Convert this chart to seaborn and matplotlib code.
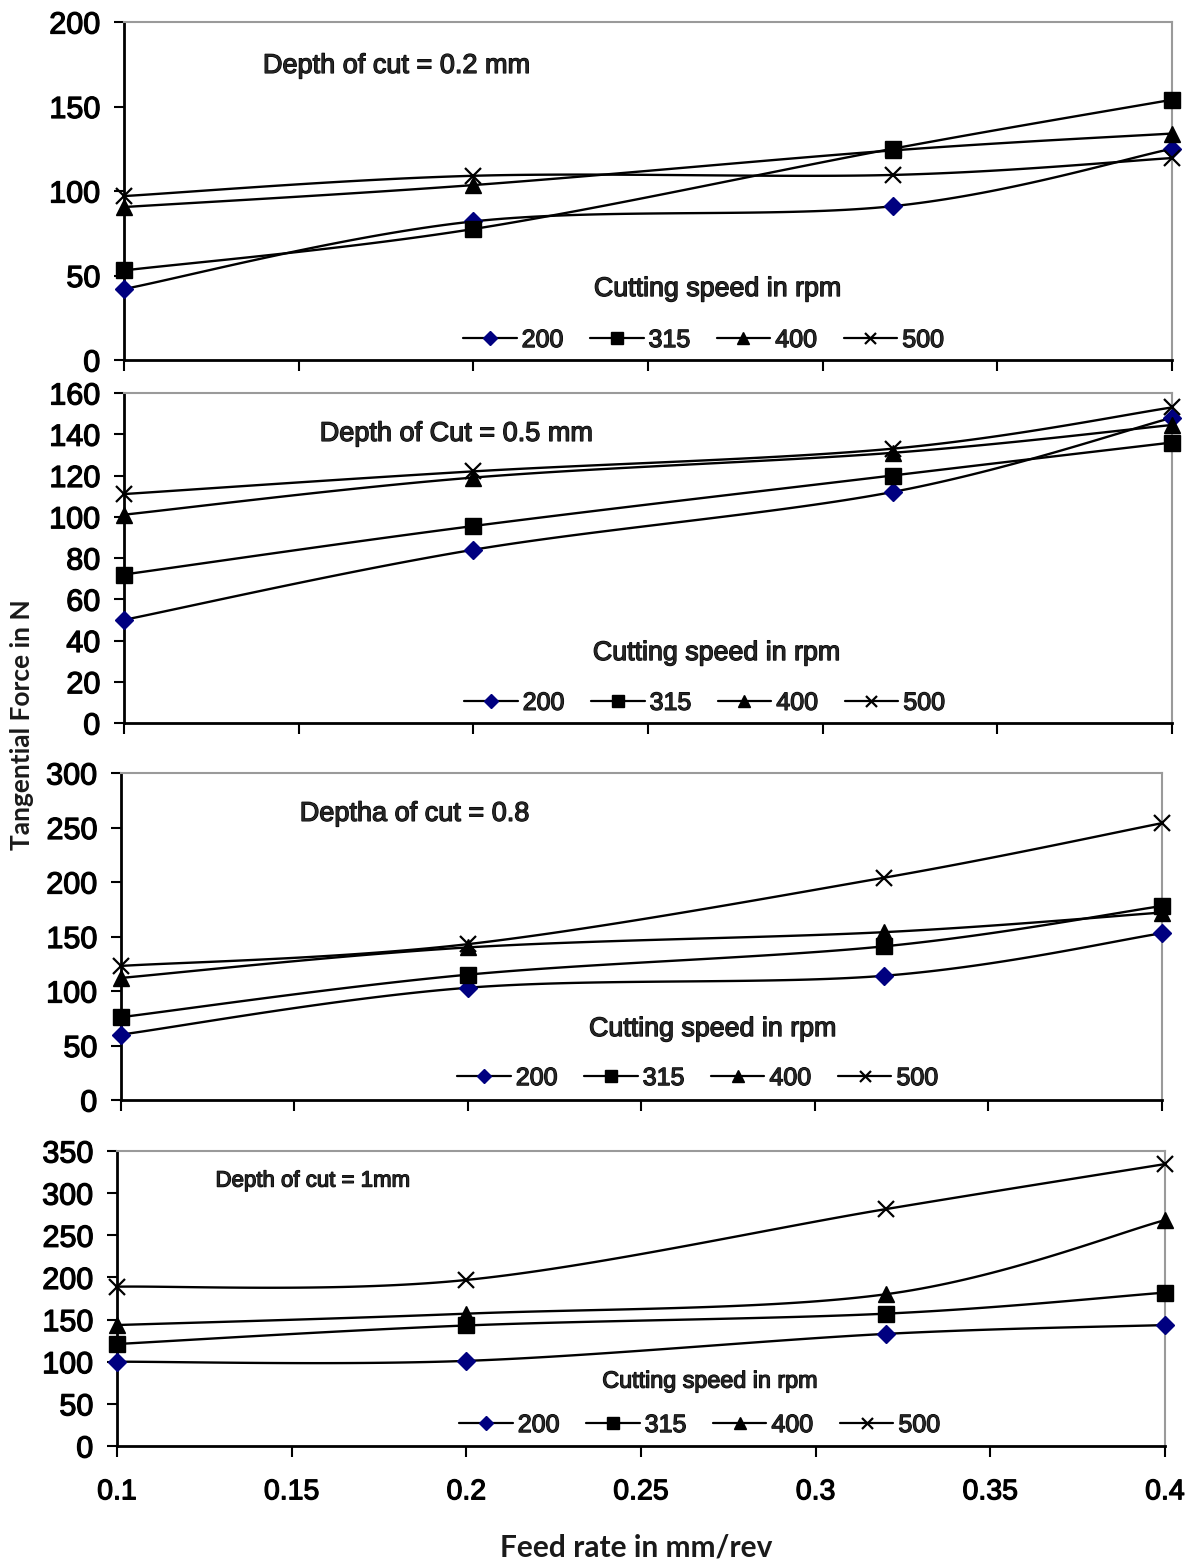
import numpy as np
import pandas as pd
import matplotlib
matplotlib.use("Agg")
import matplotlib.pyplot as plt
import matplotlib.patheffects as pe
from matplotlib.lines import Line2D
import seaborn as sns

sns.set_style("white")
plt.rcParams["font.family"] = ["Liberation Sans", "DejaVu Sans"]

# Feed rate (mm/rev) and cutting speeds (rpm)
feed_rate = [0.1, 0.2, 0.32, 0.4]
speeds = ["200", "315", "400", "500"]

# Tangential force (N), depth of cut = 0.2 mm
d02_s200 = [42, 82, 91, 125]
d02_s315 = [53, 77.5, 125, 154]
d02_s400 = [90.5, 103.5, 124, 134]
d02_s500 = [97, 109, 109.5, 119.5]

# Tangential force (N), depth of cut = 0.5 mm
d05_s200 = [50, 84, 112, 148]
d05_s315 = [72, 95.5, 120, 136]
d05_s400 = [101, 119, 131, 144.5]
d05_s500 = [111, 122, 133, 153]

# Tangential force (N), depth of cut = 0.8 mm
d08_s200 = [60, 103, 114, 153]
d08_s315 = [76, 115, 141, 178]
d08_s400 = [112, 140, 154, 172]
d08_s500 = [123, 143, 204, 254]

# Tangential force (N), depth of cut = 1 mm
d10_s200 = [100, 101, 133, 143.5]
d10_s315 = [121, 143, 157, 182]
d10_s400 = [143.5, 157, 180, 268]
d10_s500 = [189, 197, 281, 334.5]

panel_titles = ["Depth of cut = 0.2 mm", "Depth of Cut = 0.5 mm",
                "Deptha of cut = 0.8", "Depth of cut = 1mm"]
legend_heading = "Cutting speed in rpm"
panel_series = [
    [d02_s200, d02_s315, d02_s400, d02_s500],
    [d05_s200, d05_s315, d05_s400, d05_s500],
    [d08_s200, d08_s315, d08_s400, d08_s500],
    [d10_s200, d10_s315, d10_s400, d10_s500],
]
y_max = [200, 160, 300, 350]
y_step = [50, 20, 50, 50]
x_ticks = [0.1, 0.15, 0.2, 0.25, 0.3, 0.35, 0.4]
x_tick_labels = ["0.1", "0.15", "0.2", "0.25", "0.3", "0.35", "0.4"]

W, H = 1196, 1564
# axes boxes in pixels: left, right, top, bottom
boxes = [(124, 1172, 22, 360), (124, 1172, 393, 723),
         (121, 1162, 773, 1100), (117, 1165, 1151, 1446)]
title_pos = [(0.26, 0.87), (0.317, 0.876), (0.282, 0.875), (0.187, 0.898)]
title_size = [19.5, 19.5, 19.5, 16]
heading_pos = [(0.566, 0.21), (0.565, 0.212), (0.568, 0.217), (0.566, 0.22)]
heading_size = [19.3, 19.3, 19.3, 16.8]
legend_anchor = [(0.553, 0.059), (0.554, 0.061), (0.554, 0.067), (0.556, 0.071)]

HEAVY = [pe.withStroke(linewidth=0.9, foreground="black")]

styles = {
    "200": dict(marker="D", color="#000080", ms=9.5, mec="#000080", mew=1),
    "315": dict(marker="s", color="black", ms=11.5, mec="black", mew=1),
    "400": dict(marker="^", color="black", ms=11.5, mec="black", mew=1),
    "500": dict(marker="x", color="black", ms=11, mec="black", mew=1.6),
}


def smooth_curve(xs, ys, n=40):
    """Bezier smoothing through the points, like a spreadsheet smoothed line."""
    xs = np.asarray(xs, float)
    ys = np.asarray(ys, float)
    px, py = [], []
    m = len(xs)
    for i in range(m - 1):
        i0, i3 = max(i - 1, 0), min(i + 2, m - 1)
        p0 = np.array([xs[i], ys[i]])
        p3 = np.array([xs[i + 1], ys[i + 1]])
        c1 = p0 + (np.array([xs[i + 1], ys[i + 1]]) - np.array([xs[i0], ys[i0]])) / 6
        c2 = p3 - (np.array([xs[i3], ys[i3]]) - np.array([xs[i], ys[i]])) / 6
        t = np.linspace(0, 1, n)[:, None]
        seg = ((1 - t) ** 3) * p0 + 3 * ((1 - t) ** 2) * t * c1 + 3 * (1 - t) * t ** 2 * c2 + t ** 3 * p3
        if i > 0:
            seg = seg[1:]
        px.extend(seg[:, 0])
        py.extend(seg[:, 1])
    return np.array(px), np.array(py)


fig = plt.figure(figsize=(W / 100, H / 100), dpi=100)

for k in range(4):
    l, r, t, b = boxes[k]
    ax = fig.add_axes([l / W, 1 - b / H, (r - l) / W, (b - t) / H])
    for name, vals in zip(speeds, panel_series[k]):
        sx, sy = smooth_curve(feed_rate, vals)
        curve = pd.DataFrame({"feed": sx, "force": sy})
        sns.lineplot(data=curve, x="feed", y="force", ax=ax, color="black",
                     lw=1.7, sort=False, estimator=None)
        st = styles[name]
        pts = pd.DataFrame({"feed": feed_rate, "force": vals})
        ax.plot(pts["feed"], pts["force"], ls="none", marker=st["marker"],
                color=st["color"], ms=st["ms"], mec=st["mec"], mew=st["mew"],
                zorder=5, clip_on=False)

    ax.set_xlim(0.1, 0.4)
    ax.set_ylim(0, y_max[k])
    ax.set_yticks(np.arange(0, y_max[k] + 1, y_step[k]))
    ax.set_xticks(x_ticks)
    if k == 3:
        ax.set_xticklabels(x_tick_labels)
    else:
        ax.set_xticklabels([])
    ax.set_xlabel("")
    ax.set_ylabel("")
    ax.tick_params(axis="y", which="major", direction="out", length=7, width=1.5,
                   labelsize=22, pad=10, left=True, colors="black")
    ax.tick_params(axis="x", which="major", direction="out", length=8, width=1.5,
                   labelsize=20.5, pad=16, bottom=True, colors="black")
    for lab in ax.get_yticklabels() + ax.get_xticklabels():
        lab.set_path_effects(HEAVY)
    for side in ("left", "bottom"):
        ax.spines[side].set_color("black")
        ax.spines[side].set_linewidth(2)
    for side in ("top", "right"):
        ax.spines[side].set_color("#9a9a9a")
        ax.spines[side].set_linewidth(1.5)

    ax.text(title_pos[k][0], title_pos[k][1], panel_titles[k], transform=ax.transAxes,
            ha="center", va="center", fontsize=title_size[k], path_effects=HEAVY)
    ax.text(heading_pos[k][0], heading_pos[k][1], legend_heading, transform=ax.transAxes,
            ha="center", va="center", fontsize=heading_size[k], path_effects=HEAVY)

    handles = [Line2D([], [], color="black", lw=1.6, marker=styles[s]["marker"],
                      ms=styles[s]["ms"] * 0.72, mfc=styles[s]["color"],
                      mec=styles[s]["mec"], mew=styles[s]["mew"]) for s in speeds]
    leg = ax.legend(handles, speeds, ncol=4, loc="center",
                    bbox_to_anchor=legend_anchor[k], frameon=False, fontsize=18,
                    handlelength=2.15, handletextpad=0.2, columnspacing=1.05,
                    borderpad=0.0)
    for txt in leg.get_texts():
        txt.set_path_effects(HEAVY)

fig.text(636 / W, 1 - 1548 / H, "Feed rate in mm/rev", ha="center", va="center",
         fontsize=21.5, fontweight="bold", family=["Lato", "DejaVu Sans"], color="#1a1a1a")
fig.text(22 / W, 1 - 725 / H, "Tangential Force in N", ha="center", va="center",
         rotation=90, fontsize=19, fontweight="bold", family=["Lato", "DejaVu Sans"],
         color="#1a1a1a")

fig.savefig("out.png", dpi=100, facecolor="white")
